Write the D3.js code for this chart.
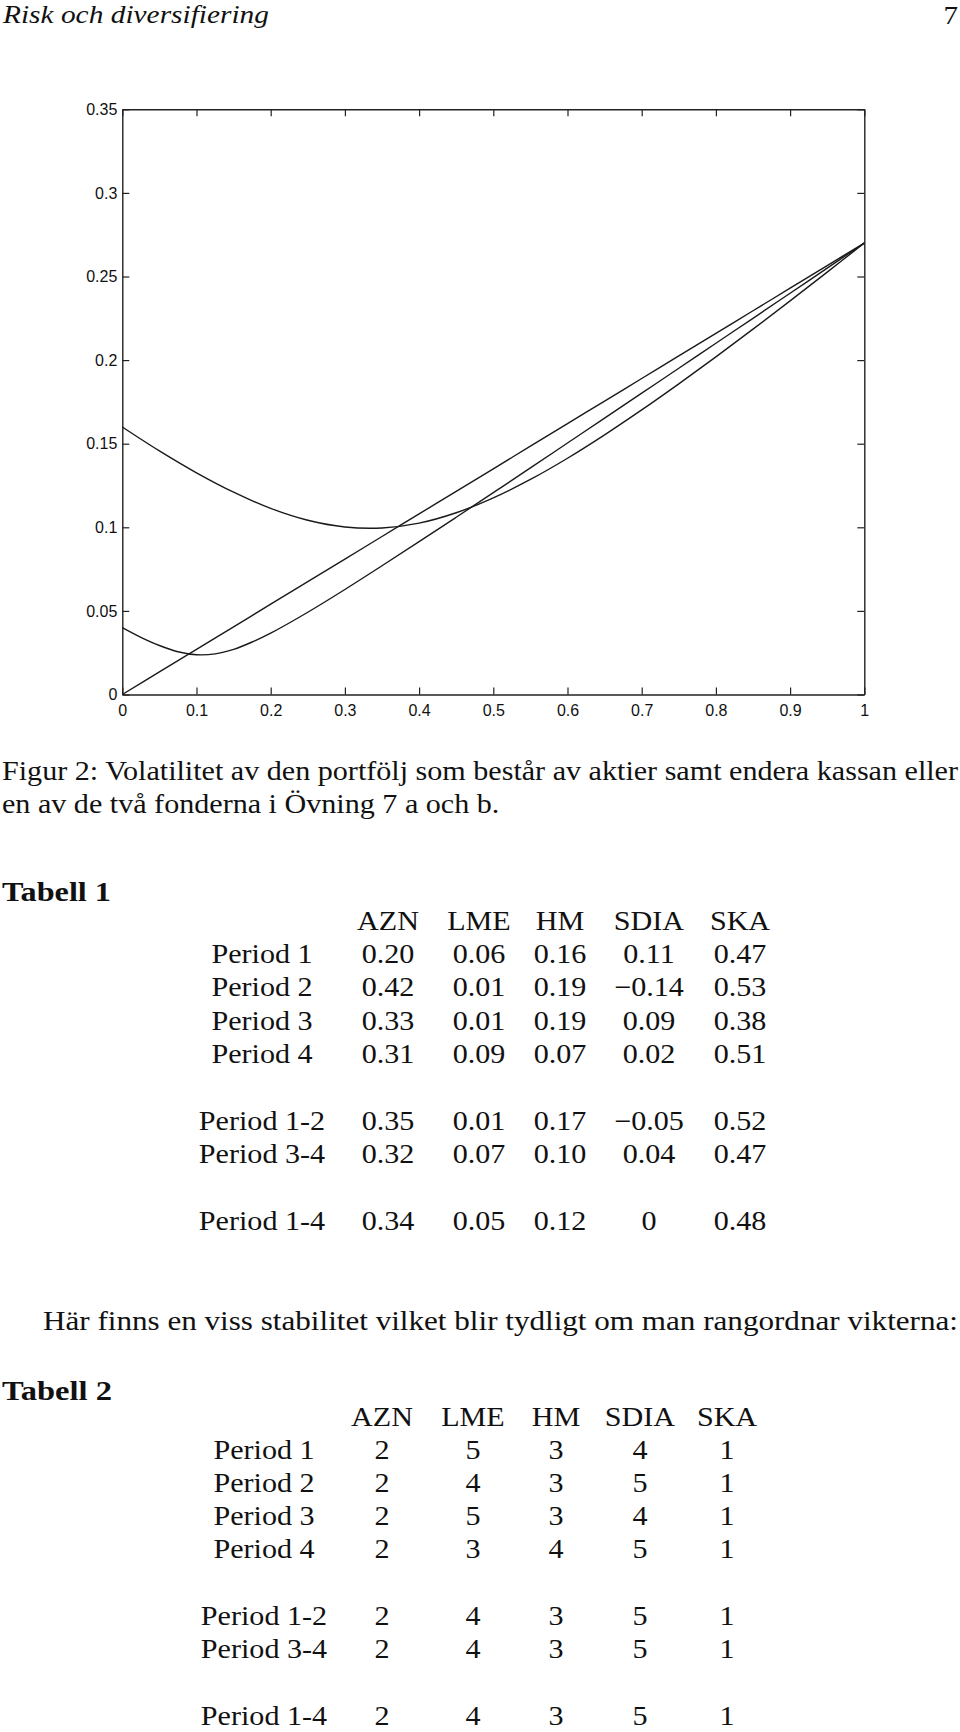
<!DOCTYPE html>
<html>
<head>
<meta charset="utf-8">
<script src="https://cdn.jsdelivr.net/npm/d3@7"></script>
<style>
  html, body { margin: 0; padding: 0; background: #fff; }
  svg { display: block; }
  .cm { font-family: "Liberation Serif", "Times New Roman", serif; fill: #111; }
  .ax text { font-family: "Liberation Sans", Arial, Helvetica, sans-serif; font-size: 16px; fill: #111; }
</style>
</head>
<body>
<script>
// ---------------- data ----------------
const pageTitle = "Risk och diversifiering";
const pageNumber = "7";

const xTickValues = [0, 0.1, 0.2, 0.3, 0.4, 0.5, 0.6, 0.7, 0.8, 0.9, 1];
const xTickLabels = ["0", "0.1", "0.2", "0.3", "0.4", "0.5", "0.6", "0.7", "0.8", "0.9", "1"];
const yTickValues = [0, 0.05, 0.1, 0.15, 0.2, 0.25, 0.3, 0.35];
const yTickLabels = ["0", "0.05", "0.1", "0.15", "0.2", "0.25", "0.3", "0.35"];

// aktier + kassan (straight line)
const weightsCash = [0, 0.05, 0.1, 0.15, 0.2, 0.25, 0.3, 0.35, 0.4, 0.45, 0.5, 0.55, 0.6, 0.65, 0.7, 0.75, 0.8, 0.85, 0.9, 0.95, 1];
const volCash = [0, 0.0135, 0.027, 0.0405, 0.054, 0.0675, 0.081, 0.0945, 0.108, 0.1215, 0.135, 0.1485, 0.162, 0.1755, 0.189, 0.2025, 0.216, 0.2295, 0.243, 0.2565, 0.27];

// aktier + fond a
const weightsFundA = [0, 0.025, 0.05, 0.075, 0.1, 0.125, 0.15, 0.175, 0.2, 0.25, 0.3, 0.35, 0.4, 0.45, 0.5, 0.55, 0.6, 0.65, 0.7, 0.75, 0.8, 0.85, 0.9, 0.95, 1];
const volFundA = [0.0400, 0.0342, 0.0293, 0.0256, 0.0238, 0.0243, 0.0270, 0.0314, 0.0367, 0.0492, 0.0628, 0.0770, 0.0914, 0.1060, 0.1207, 0.1355, 0.1504, 0.1653, 0.1802, 0.1951, 0.2101, 0.2250, 0.2400, 0.2550, 0.2700];

// aktier + fond b
const weightsFundB = [0, 0.05, 0.1, 0.15, 0.2, 0.25, 0.3, 0.35, 0.4, 0.45, 0.5, 0.55, 0.6, 0.65, 0.7, 0.75, 0.8, 0.85, 0.9, 0.95, 1];
const volFundB = [0.1600, 0.1457, 0.1326, 0.1210, 0.1113, 0.1042, 0.1002, 0.0996, 0.1025, 0.1087, 0.1176, 0.1286, 0.1413, 0.1553, 0.1702, 0.1858, 0.2019, 0.2185, 0.2354, 0.2526, 0.2700];

const captionLines = [
  "Figur 2: Volatilitet av den portfölj som består av aktier samt endera kassan eller",
  "en av de två fonderna i Övning 7 a och b."
];
const paragraphText = "Här finns en viss stabilitet vilket blir tydligt om man rangordnar vikterna:";

const table1Title = "Tabell 1";
const table2Title = "Tabell 2";
const tableColumns = ["AZN", "LME", "HM", "SDIA", "SKA"];
const table1RowLabels = ["Period 1", "Period 2", "Period 3", "Period 4", "Period 1-2", "Period 3-4", "Period 1-4"];
const table1Values = [
  ["0.20", "0.06", "0.16", "0.11", "0.47"],
  ["0.42", "0.01", "0.19", "\u22120.14", "0.53"],
  ["0.33", "0.01", "0.19", "0.09", "0.38"],
  ["0.31", "0.09", "0.07", "0.02", "0.51"],
  ["0.35", "0.01", "0.17", "\u22120.05", "0.52"],
  ["0.32", "0.07", "0.10", "0.04", "0.47"],
  ["0.34", "0.05", "0.12", "0", "0.48"]
];
const table2RowLabels = ["Period 1", "Period 2", "Period 3", "Period 4", "Period 1-2", "Period 3-4", "Period 1-4"];
const table2Values = [
  ["2", "5", "3", "4", "1"],
  ["2", "4", "3", "5", "1"],
  ["2", "5", "3", "4", "1"],
  ["2", "3", "4", "5", "1"],
  ["2", "4", "3", "5", "1"],
  ["2", "4", "3", "5", "1"],
  ["2", "4", "3", "5", "1"]
];

// ---------------- layout ----------------
const W = 960, H = 1732;
const svg = d3.select("body").append("svg").attr("width", W).attr("height", H);
svg.append("rect").attr("width", W).attr("height", H).attr("fill", "#fff");

const FS = 27;
const serifTexts = [];
function cm(x, y, s, opts = {}) {
  const t = svg.append("text")
    .attr("class", "cm")
    .attr("x", x).attr("y", y)
    .attr("font-size", opts.size || FS)
    .attr("text-anchor", opts.anchor || "start")
    .text(s);
  if (opts.italic) t.attr("font-style", "italic");
  if (opts.bold) t.attr("font-weight", "bold");
  serifTexts.push({ t, target: opts.target });
  return t;
}

// header
cm(3, 23, pageTitle, { italic: true, size: 25, target: 266 });
cm(958, 24, pageNumber, { anchor: "end", size: 26 });

// ---------------- chart ----------------
const plot = { left: 122.3, right: 864.3, top: 109.3, bottom: 694.5 };
const x = d3.scaleLinear().domain([0, 1]).range([plot.left, plot.right]);
const y = d3.scaleLinear().domain([0, 0.35]).range([plot.bottom, plot.top]);

const axColor = "#222";
const fmtX = d => xTickLabels[xTickValues.indexOf(d)];
const fmtY = d => yTickLabels[yTickValues.indexOf(d)];

function styleAxis(g) {
  g.select(".domain").attr("stroke", axColor).attr("stroke-width", 1.4);
  g.selectAll(".tick line").attr("stroke", axColor).attr("stroke-width", 1.2);
}

svg.append("g").attr("class", "ax")
  .attr("transform", `translate(0,${plot.bottom})`)
  .call(d3.axisBottom(x).tickValues(xTickValues).tickFormat(fmtX).tickSizeInner(-7).tickSizeOuter(0).tickPadding(10))
  .call(styleAxis)
  .call(g => g.selectAll("text").attr("fill", "#111"));

svg.append("g").attr("class", "ax")
  .attr("transform", `translate(${plot.left},0)`)
  .call(d3.axisLeft(y).tickValues(yTickValues).tickFormat(fmtY).tickSizeInner(-7).tickSizeOuter(0).tickPadding(5))
  .call(styleAxis)
  .call(g => g.selectAll("text").attr("fill", "#111"));

svg.append("g").attr("class", "ax")
  .attr("transform", `translate(0,${plot.top})`)
  .call(d3.axisTop(x).tickValues(xTickValues).tickFormat("").tickSizeInner(-7).tickSizeOuter(0))
  .call(styleAxis);

svg.append("g").attr("class", "ax")
  .attr("transform", `translate(${plot.right},0)`)
  .call(d3.axisRight(y).tickValues(yTickValues).tickFormat("").tickSizeInner(-7).tickSizeOuter(0))
  .call(styleAxis);

const line = d3.line()
  .x(d => x(d[0]))
  .y(d => y(d[1]))
  .curve(d3.curveCatmullRom.alpha(0.5));

const series = [
  d3.zip(weightsCash, volCash),
  d3.zip(weightsFundA, volFundA),
  d3.zip(weightsFundB, volFundB)
];
svg.append("g").selectAll("path").data(series).join("path")
  .attr("d", line)
  .attr("fill", "none")
  .attr("stroke", "#1a1a1a")
  .attr("stroke-width", 1.4);

// ---------------- caption ----------------
const cap1 = cm(2, 780, captionLines[0], { target: 956 });
cm(2, 813, captionLines[1]);

// ---------------- table 1 ----------------
const colX1 = [388, 479, 560, 649, 740];
const rowLabelX1 = 262;
const rowY1 = [963, 996, 1029.5, 1063, 1130, 1163, 1230];
cm(2, 901, table1Title, { bold: true, target: 109 });
tableColumns.forEach((c, i) => cm(colX1[i], 930, c, { anchor: "middle" }));
table1RowLabels.forEach((lab, r) => {
  cm(rowLabelX1, rowY1[r], lab, { anchor: "middle" });
  table1Values[r].forEach((v, i) => cm(colX1[i], rowY1[r], v, { anchor: "middle" }));
});

// ---------------- paragraph ----------------
cm(43, 1330, paragraphText, { target: 915 });

// ---------------- table 2 ----------------
const colX2 = [382, 473, 556, 640, 727];
const rowLabelX2 = 264;
const rowY2 = [1459, 1492, 1525, 1558, 1625, 1658, 1725];
cm(2, 1400, table2Title, { bold: true, target: 110 });
tableColumns.forEach((c, i) => cm(colX2[i], 1426, c, { anchor: "middle" }));
table2RowLabels.forEach((lab, r) => {
  cm(rowLabelX2, rowY2[r], lab, { anchor: "middle" });
  table2Values[r].forEach((v, i) => cm(colX2[i], rowY2[r], v, { anchor: "middle" }));
});

// ---------------- horizontal fitting to mimic Computer Modern metrics ----------------
const ratio = 956 / cap1.node().getComputedTextLength();
serifTexts.forEach(({ t, target }) => {
  const len = t.node().getComputedTextLength();
  const goal = target || len * ratio;
  t.attr("textLength", goal).attr("lengthAdjust", "spacingAndGlyphs");
});
</script>
</body>
</html>
